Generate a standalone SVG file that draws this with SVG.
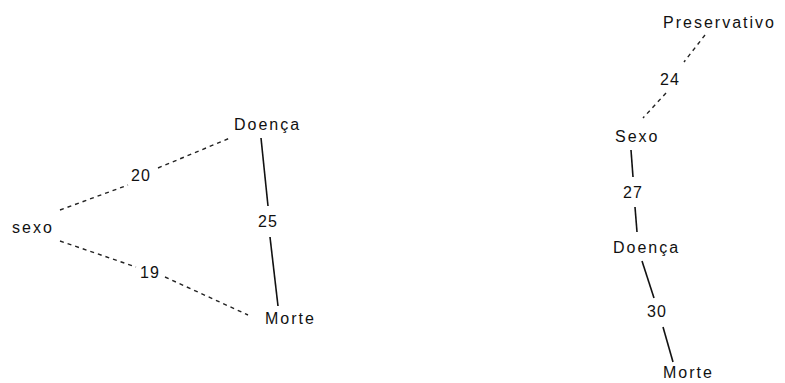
<svg xmlns="http://www.w3.org/2000/svg" width="785" height="383" viewBox="0 0 785 383">
  <style>
    .lbl { font-family: "Liberation Sans", Arial, sans-serif; font-size: 16px; letter-spacing: 2px; fill: #111; }
    .num { font-family: "Liberation Sans", Arial, sans-serif; font-size: 16px; letter-spacing: 1px; fill: #111; }
    .solid { stroke: #111; stroke-width: 1.6; fill: none; }
    .dash { stroke: #222; stroke-width: 1.4; fill: none; stroke-dasharray: 4 4; }
  </style>
  <rect width="785" height="383" fill="#fff"/>

  <!-- connectors -->
  <g id="connectors">
    <!-- left graph -->
    <line class="dash" x1="60" y1="210" x2="128" y2="185"/>
    <line class="dash" x1="158" y1="168" x2="230" y2="138"/>
    <line class="dash" x1="60" y1="241" x2="136" y2="267"/>
    <line class="dash" x1="165" y1="277" x2="248" y2="315"/>
    <line class="solid" x1="261" y1="138" x2="268" y2="206"/>
    <line class="solid" x1="270" y1="237" x2="278" y2="306"/>
    <!-- right chain -->
    <line class="dash" x1="705" y1="35" x2="684" y2="62"/>
    <line class="dash" x1="666" y1="93" x2="643" y2="118"/>
    <line class="solid" x1="631" y1="150" x2="633" y2="177"/>
    <line class="solid" x1="635" y1="207" x2="637" y2="232"/>
    <line class="solid" x1="642" y1="261" x2="654" y2="298"/>
    <line class="solid" x1="663" y1="327" x2="673" y2="362"/>
    <!-- edge weights -->
    <text class="num" x="131" y="181">20</text>
    <text class="num" x="140" y="278">19</text>
    <text class="num" x="258" y="227">25</text>
    <text class="num" x="660" y="85">24</text>
    <text class="num" x="623" y="198">27</text>
    <text class="num" x="647" y="317">30</text>
  </g>

  <!-- left graph nodes -->
  <g id="l-sexo"><text class="lbl" x="12" y="233">sexo</text></g>
  <g id="l-doenca"><text class="lbl" x="234" y="130">Doença</text></g>
  <g id="l-morte"><text class="lbl" x="265" y="324">Morte</text></g>

  <!-- right chain nodes -->
  <g id="r-preservativo"><text class="lbl" x="663" y="28">Preservativo</text></g>
  <g id="r-sexo"><text class="lbl" x="615" y="142">Sexo</text></g>
  <g id="r-doenca"><text class="lbl" x="613" y="253">Doença</text></g>
  <g id="r-morte"><text class="lbl" x="663" y="378">Morte</text></g>
</svg>
